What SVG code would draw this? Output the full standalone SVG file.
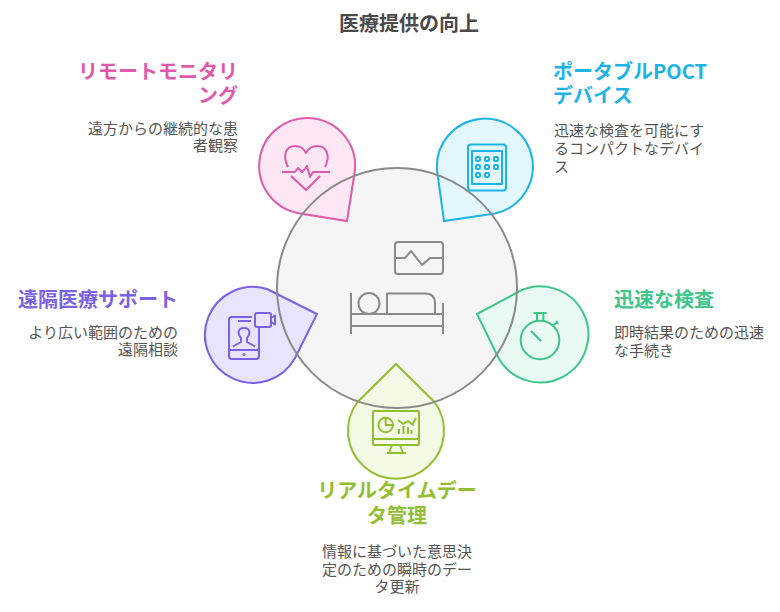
<svg xmlns="http://www.w3.org/2000/svg" width="780" height="612" viewBox="0 0 780 612">
<style>
text{font-family:"Noto Sans CJK JP","Noto Sans",sans-serif}
.t{font-size:20px;font-weight:700;fill:#4a4a4a}
.h{font-size:20px;font-weight:700}
.b{font-size:15px;fill:#555}
.e{text-anchor:end}.m{text-anchor:middle}
.i{fill:none;stroke-width:2;stroke-linecap:butt;stroke-linejoin:round}
.d{stroke-width:2;stroke-linejoin:miter}
</style>
<rect width="780" height="612" fill="#fff"/>
<text class="t m" x="409" y="31">医療提供の向上</text>
<g id="center-disc">
<circle cx="397" cy="288" r="120" fill="#f5f5f5"/>
</g>
<g id="remote-monitoring">
<path class="d" d="M355 170L347 221L300 213.500A48 48 0 1 1 355 170Z" fill="#fde7f5" stroke="#e05aab"/>
<g class="i" stroke="#e05aab">
<path d="M288 167C282 155 286 146 295 146C300 146 304 149 306 153C308 149 312 146 317 146C326 146 331 155 325 167"/>
<path d="M282 172H295L298 168L302 172L305 169L307 166L310 177L313 172H330"/>
<path d="M291 176L306 190L320 176"/>
</g>
<text class="h e" x="238" y="79" fill="#e05aab">リモートモニタリ</text>
<text class="h e" x="238" y="103" fill="#e05aab">ング</text>
<text class="b e" x="238" y="134">遠方からの継続的な患</text>
<text class="b e" x="238" y="151">者観察</text>
</g>
<g id="poct">
<path class="d" d="M437 170L444 221L495 213.500A48 48 0 1 0 437 170Z" fill="#e3f8fe" stroke="#1cb4e6"/>
<g class="i" stroke="#1cb4e6">
<rect x="468" y="144.500" width="38" height="46" rx="3"/>
<rect x="472" y="151" width="30" height="33"/>
<rect x="476" y="157" width="4" height="4" rx="1"/><rect x="485" y="157" width="4" height="4" rx="1"/><rect x="494" y="157" width="4" height="4" rx="1"/>
<rect x="476" y="165" width="4" height="4" rx="1"/><rect x="485" y="165" width="4" height="4" rx="1"/><rect x="494" y="165" width="4" height="4" rx="1"/>
<rect x="476" y="173" width="4" height="4" rx="1"/><rect x="485" y="173" width="4" height="4" rx="1"/>
</g>
<text class="h" x="553" y="79" fill="#1cb4e6">ポータブルPOCT</text>
<text class="h" x="553" y="103" fill="#1cb4e6">デバイス</text>
<text class="b" x="554" y="136">迅速な検査を可能にす</text>
<text class="b" x="554" y="154">るコンパクトなデバイ</text>
<text class="b" x="554" y="172">ス</text>
</g>
<g id="telehealth">
<path class="d" d="M267 289L317 314L295 358A48 48 0 1 1 267 289Z" fill="#e8e4fe" stroke="#7b61e4"/>
<g class="i" stroke="#7b61e4">
<path d="M252 317H232Q229 317 229 320V356Q229 359 232 359H256Q259 359 259 356V327"/>
<path d="M229 350H259M238 321H251"/>
<circle cx="244" cy="354.500" r=".6"/>
<rect x="255" y="313" width="16" height="14" rx="2"/>
<path d="M271 318L275 315.500V324.500L271 322"/>
<path d="M233 346.500L241 342V338C237 333 238 328 244 328C250 328 251 333 247 338V342L255 346.500"/>
</g>
<text class="h e" x="178" y="307" fill="#7b61e4">遠隔医療サポート</text>
<text class="b e" x="178" y="338">より広い範囲のための</text>
<text class="b e" x="178" y="355">遠隔相談</text>
</g>
<g id="rapid-test">
<path class="d" d="M518 292L477 314L498 357A48 48 0 1 0 518 292Z" fill="#e8faf2" stroke="#3cc68a"/>
<g class="i" stroke="#3cc68a">
<circle cx="540" cy="340" r="19.300"/>
<path d="M531 331L541 341M533.500 313H546.500M537 313V321M543.300 313V321M552 326L558 322M556 321L558 324"/>
</g>
<text class="h" x="614" y="307" fill="#3cc68a">迅速な検査</text>
<text class="b" x="614" y="338">即時結果のための迅速</text>
<text class="b" x="614" y="356">な手続き</text>
</g>
<g id="realtime-data">
<path class="d" d="M396 364L434.500 402A48 48 0 1 1 357.500 402Z" fill="#f3fae5" stroke="#94be32"/>
<g class="i" stroke="#94be32">
<rect x="373" y="411" width="46" height="34" rx="1"/>
<path d="M373 439H419M392 445L389 453M400 445L403 453M387 453H406"/>
<circle cx="385.700" cy="425" r="7.300"/>
<path d="M385.700 418V425H393"/>
<path d="M398 420L403 424L408 421L413 425L413 423L416 418"/>
<path d="M399 434V429M403.500 434V426M408 434V427M411.500 434V430"/>
</g>
<text class="h m" x="397" y="498" fill="#94be32">リアルタイムデー</text>
<text class="h m" x="397" y="523" fill="#94be32">タ管理</text>
<text class="b m" x="397" y="557">情報に基づいた意思決</text>
<text class="b m" x="397" y="575">定のための瞬時のデー</text>
<text class="b m" x="397" y="592">タ更新</text>
</g>
<g id="center">
<circle cx="397" cy="288" r="120" fill="none" stroke="#8a8a8a" stroke-width="2"/>
<g class="i" stroke="#8a8a8a">
<rect x="395" y="242" width="48" height="32" rx="3"/>
<path d="M395 258H405L411 251L422 265L430 258H443"/>
<path d="M351 293V334M443 303V334M351 314H443M351 326H443"/>
<circle cx="369" cy="303.500" r="10.500"/>
<path d="M387 314V293.500H425Q435 293.500 435 303.500V314"/>
</g>
</g>
<g id="connectors"></g>
</svg>
